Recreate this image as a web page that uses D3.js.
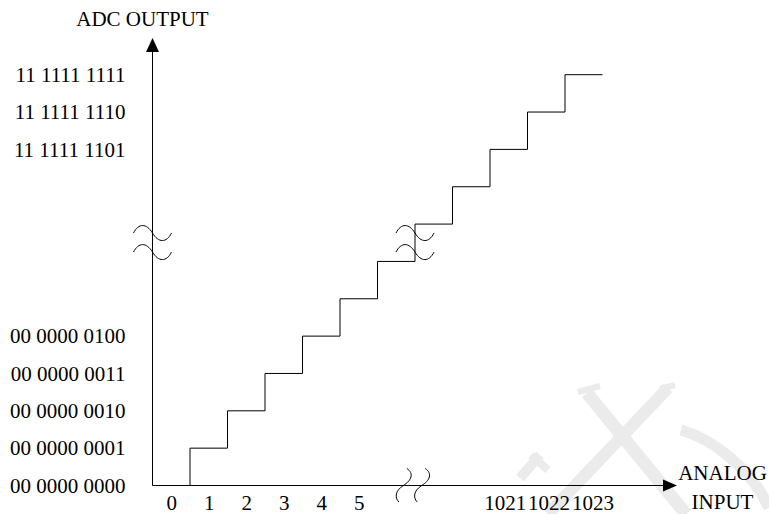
<!DOCTYPE html>
<html>
<head>
<meta charset="utf-8">
<script src="https://cdn.jsdelivr.net/npm/d3@7"></script>
<style>
  html, body { margin: 0; padding: 0; background: #fff; }
  svg { display: block; }
  text { font-family: "Liberation Serif", "Times New Roman", serif; font-size: 21px; fill: #000; }
</style>
</head>
<body>
<svg id="chart" width="769" height="514"></svg>
<script>
// ---- data ----
const yCodeLabels = ["00 0000 0000", "00 0000 0001", "00 0000 0010", "00 0000 0011", "00 0000 0100",
                     "11 1111 1101", "11 1111 1110", "11 1111 1111"];
const yCodeLevels = [0, 1, 2, 3, 4, 9, 10, 11];

const xTickLabels = ["0", "1", "2", "3", "4", "5", "1021", "1022", "1023"];
const xTickSlots  = [0.5, 1.5, 2.5, 3.5, 4.5, 5.5, 9.39, 10.56, 11.73];

// staircase transfer function: input slot at which each output code level is reached
const stairSlot  = [1, 1, 2, 3, 4, 5, 6, 7, 8, 9, 10, 11, 12];
const stairLevel = [0, 1, 2, 3, 4, 5, 6, 7, 8, 9, 10, 11, 11];

// axis-break marks
const yBreakLevels = [6.76, 6.25];        // on y-axis and on the staircase
const stairBreakSlot = 7;
const xBreakSlots = [6.69, 7.18];         // on x-axis

const xTitle = ["ANALOG", "INPUT"];
const yTitle = "ADC OUTPUT";

// ---- scales ----
const svg = d3.select("#chart");
const x = d3.scaleLinear().domain([0, 12]).range([152.5, 602.5]);
const y = d3.scaleLinear().domain([0, 11]).range([485.5, 74.7]);

// ---- faint watermark ----
const wm = svg.append("g").attr("fill", "none").attr("stroke", "#ebebeb").attr("stroke-linecap", "butt");
wm.append("path").attr("d", "M587,393 L686,514").attr("stroke-width", 13);
wm.append("path").attr("d", "M668,388 L548,514").attr("stroke-width", 12);
wm.append("path").attr("d", "M578,392 L600,386").attr("stroke-width", 6);
wm.append("path").attr("d", "M660,389 L675,385").attr("stroke-width", 6);
wm.append("path").attr("d", "M681,430 C715,440 752,470 769,508").attr("stroke-width", 11);
wm.append("path").attr("d", "M520,478 L540,455").attr("stroke-width", 10);
wm.append("path").attr("d", "M531,455 L548,470").attr("stroke-width", 8);

// ---- axes lines ----
const axisY0 = y(0), axisX0 = x(0);
svg.append("line").attr("x1", axisX0).attr("x2", axisX0).attr("y1", 50).attr("y2", axisY0)
  .attr("stroke", "#000").attr("stroke-width", 1);
svg.append("line").attr("x1", axisX0).attr("x2", 665).attr("y1", axisY0).attr("y2", axisY0)
  .attr("stroke", "#000").attr("stroke-width", 1);
// arrowheads
svg.append("path").attr("d", `M${axisX0},38 L${axisX0 - 6.5},52 L${axisX0 + 6.5},52 Z`).attr("fill", "#000");
svg.append("path").attr("d", `M677,${axisY0} L663,${axisY0 - 6} L663,${axisY0 + 6} Z`).attr("fill", "#000");

// ---- y axis labels ----
const codeMap = new Map(yCodeLevels.map((l, i) => [l, yCodeLabels[i]]));
const yAxis = d3.axisLeft(y).tickValues(yCodeLevels).tickFormat(d => codeMap.get(d)).tickSize(0).tickPadding(27);
const gy = svg.append("g").attr("transform", `translate(${axisX0},0)`).call(yAxis);
gy.select(".domain").remove();
gy.attr("font-family", null).attr("font-size", null);

// ---- x axis labels ----
const xLabMap = new Map(xTickSlots.map((s, i) => [s, xTickLabels[i]]));
const xAxis = d3.axisBottom(x).tickValues(xTickSlots).tickFormat(d => xLabMap.get(d)).tickSize(0).tickPadding(10);
const gx = svg.append("g").attr("transform", `translate(0,${axisY0})`).call(xAxis);
gx.select(".domain").remove();
gx.attr("font-family", null).attr("font-size", null);

// ---- staircase ----
const stairs = stairSlot.map((s, i) => [s, stairLevel[i]]);
svg.append("path")
  .datum(stairs)
  .attr("fill", "none").attr("stroke", "#000").attr("stroke-width", 1)
  .attr("d", d3.line().x(d => x(d[0])).y(d => y(d[1])).curve(d3.curveStepAfter));

// ---- break marks ----
const hWave = "M-19,0 C-14,-10 -6,-10 0,0 C6,10 14,10 19,0";
const vWave = "M3.5,-17 C11,-12 8,-5 0,0 C-8,5 -9,12 -4.5,16.5";
const bm = svg.append("g").attr("fill", "none").attr("stroke", "#000").attr("stroke-width", 1);
yBreakLevels.forEach(l => {
  bm.append("path").attr("d", hWave).attr("transform", `translate(${axisX0},${y(l)})`);
  bm.append("path").attr("d", hWave).attr("transform", `translate(${x(stairBreakSlot)},${y(l)})`);
});
xBreakSlots.forEach(s => {
  bm.append("path").attr("d", vWave).attr("transform", `translate(${x(s)},${axisY0})`);
});

// ---- titles ----
svg.append("text").attr("x", 142.5).attr("y", 26).attr("text-anchor", "middle").text(yTitle);
svg.append("text").attr("x", 722.5).attr("y", 480).attr("text-anchor", "middle").text(xTitle[0]);
svg.append("text").attr("x", 722.5).attr("y", 509).attr("text-anchor", "middle").text(xTitle[1]);
</script>
</body>
</html>
